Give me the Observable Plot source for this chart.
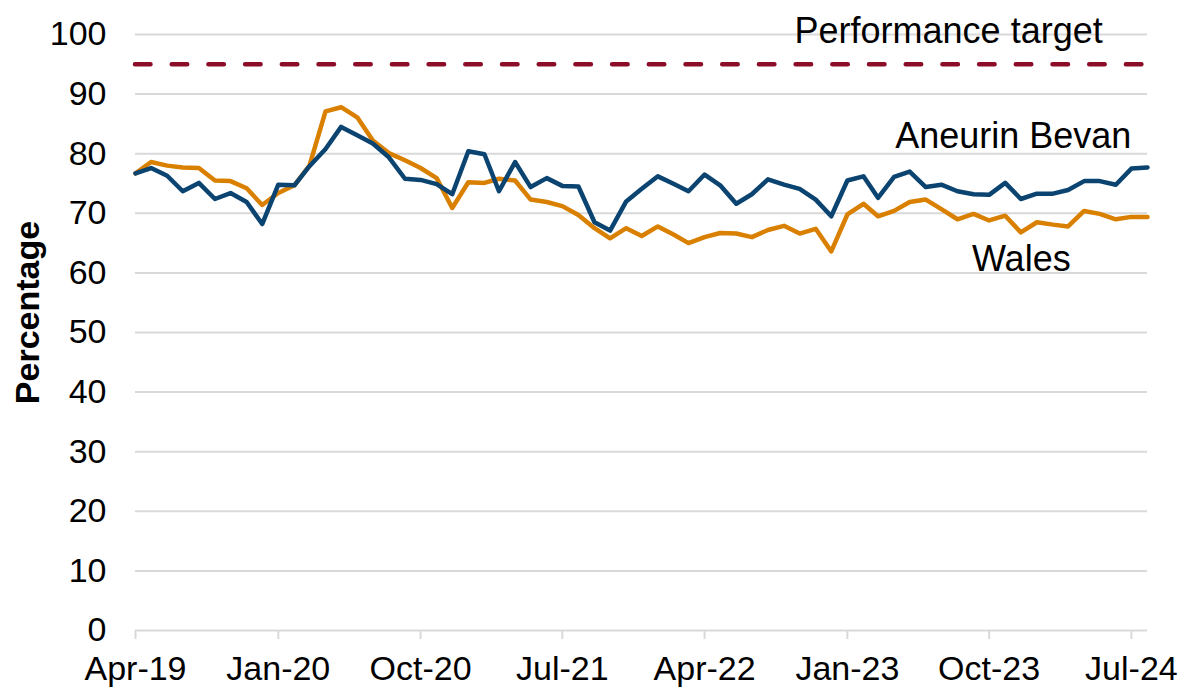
<!DOCTYPE html>
<html>
<head>
<meta charset="utf-8">
<script src="https://cdn.jsdelivr.net/npm/d3@7"></script>
<script src="https://cdn.jsdelivr.net/npm/@observablehq/plot@0.6"></script>
<style>
  html, body { margin: 0; padding: 0; background: #ffffff; }
  #chart { width: 1181px; height: 687px; }
</style>
</head>
<body>
<div id="chart"></div>
<script>
// Months: Apr-19 .. Aug-24
const months = d3.utcMonth.range(new Date(Date.UTC(2019, 3, 1)), new Date(Date.UTC(2024, 7, 2)));

const aneurinBevan = [
  76.7, 77.6, 76.3, 73.7, 75.1, 72.4, 73.4, 71.9, 68.2, 74.8,
  74.7, 77.9, 80.8, 84.5, 83.1, 81.7, 79.4, 75.8, 75.6, 74.9,
  73.2, 80.4, 79.9, 73.7, 78.6, 74.4, 75.9, 74.6, 74.5, 68.5,
  67.1, 72.0, 74.1, 76.2, 74.9, 73.7, 76.5, 74.7, 71.6, 73.2,
  75.7, 74.8, 74.1, 72.3, 69.5, 75.5, 76.2, 72.6, 76.1, 77.0,
  74.4, 74.8, 73.7, 73.2, 73.1, 75.1, 72.4, 73.3, 73.3, 73.9,
  75.4, 75.4, 74.8, 77.5, 77.7
];

const wales = [
  76.7, 78.6, 78.0, 77.7, 77.6, 75.5, 75.4, 74.2, 71.4, 73.4,
  74.7, 78.0, 87.1, 87.8, 86.1, 82.2, 80.1, 78.9, 77.6, 75.9,
  70.9, 75.2, 75.1, 75.8, 75.5, 72.3, 71.9, 71.2, 69.7, 67.5,
  65.8, 67.5, 66.2, 67.8, 66.4, 65.0, 66.0, 66.7, 66.6, 66.0,
  67.2, 67.9, 66.6, 67.4, 63.6, 69.8, 71.6, 69.5, 70.4, 71.9,
  72.3, 70.7, 69.0, 69.9, 68.8, 69.6, 66.8, 68.5, 68.1, 67.8,
  70.4, 69.9, 69.0, 69.4, 69.4
];

const performanceTarget = 95;

const xTickLabels = ["Apr-19", "Jan-20", "Oct-20", "Jul-21", "Apr-22", "Jan-23", "Oct-23", "Jul-24"];
const yTicks = [0, 10, 20, 30, 40, 50, 60, 70, 80, 90, 100];

const seriesNames = ["Wales", "Aneurin Bevan"];
const seriesColors = ["#d98000", "#0b4470"];

// Annotation labels (date, value at text baseline)
const labelTexts = ["Performance target", "Aneurin Bevan", "Wales"];
const labelDates = ["2023-07-15", "2024-07-01", "2023-12-02"];
const labelValues = [98.5, 80.9, 60.4];
const labelAnchors = ["middle", "end", "middle"];

const parseTick = d3.utcParse("%b-%y");
const xTickDates = xTickLabels.map(parseTick);

const rows = [];
months.forEach((m, i) => {
  rows.push({date: m, value: wales[i], series: seriesNames[0]});
});
months.forEach((m, i) => {
  rows.push({date: m, value: aneurinBevan[i], series: seriesNames[1]});
});

const labels = labelTexts.map((t, i) => ({
  text: t,
  date: new Date(labelDates[i] + "T00:00:00Z"),
  value: labelValues[i],
  anchor: labelAnchors[i]
}));

const chart = Plot.plot({
  width: 1181,
  height: 687,
  marginLeft: 135,
  marginRight: 34,
  marginTop: 34,
  marginBottom: 57,
  style: {
    fontFamily: "'Liberation Sans', Arial, sans-serif",
    fontSize: "34px",
    color: "#000000",
    background: "#ffffff"
  },
  x: {type: "utc", domain: [months[0], months[months.length - 1]]},
  y: {domain: [0, 100]},
  color: {domain: seriesNames, range: seriesColors},
  marks: [
    Plot.gridY(yTicks.filter(d => d > 0), {stroke: "#d9d9d9", strokeOpacity: 1, strokeWidth: 2}),
    Plot.ruleY([0], {stroke: "#d9d9d9", strokeWidth: 2}),
    Plot.axisY(yTicks, {tickSize: 0, tickPadding: 29, label: null, fontSize: 34, fill: "#000"}),
    Plot.axisX(xTickDates, {
      tickSize: 9, tickPadding: 16, label: null,
      tickFormat: d3.utcFormat("%b-%y"),
      stroke: "#d9d9d9", strokeWidth: 2, fill: "#000", fontSize: 34
    }),
    Plot.ruleY([performanceTarget], {
      stroke: "#8b0d28", strokeWidth: 4.5, strokeDasharray: "15.5,21.2", strokeLinecap: "round"
    }),
    Plot.line(rows, {
      x: "date", y: "value", z: "series", stroke: "series",
      strokeWidth: 4.5, strokeLinejoin: "round", strokeLinecap: "round"
    }),
    Plot.text(labels.filter(d => d.anchor === "middle"), {
      x: "date", y: "value", text: "text", textAnchor: "middle", lineAnchor: "bottom",
      fontSize: 36, fill: "#000"
    }),
    Plot.text(labels.filter(d => d.anchor === "end"), {
      x: "date", y: "value", text: "text", textAnchor: "end", lineAnchor: "bottom",
      fontSize: 36, fill: "#000"
    }),
    Plot.text(["Percentage"], {
      frameAnchor: "left", rotate: -90, dx: -107, dy: -20, textAnchor: "middle",
      fontWeight: "bold", fontSize: 34, fill: "#000"
    })
  ]
});

document.getElementById("chart").appendChild(chart);
</script>
</body>
</html>
